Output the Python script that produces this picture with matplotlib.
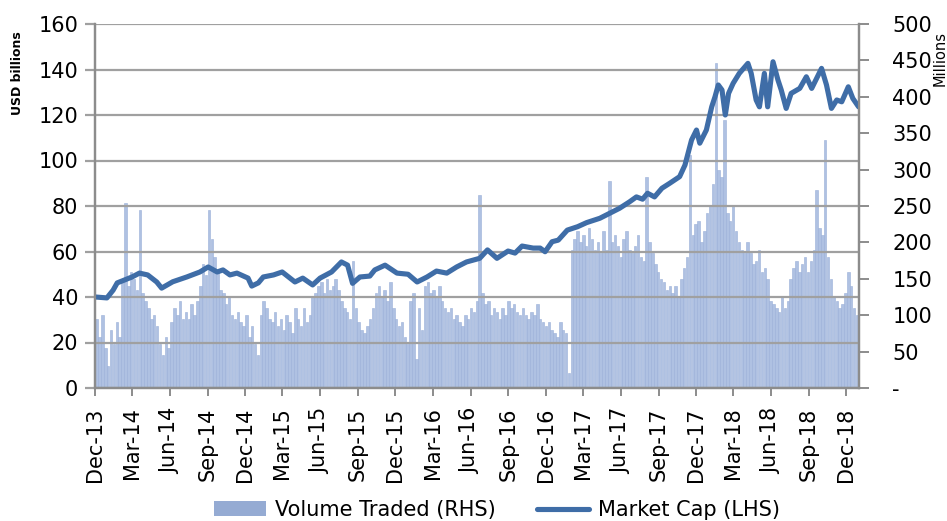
import matplotlib
matplotlib.use('Agg')
import matplotlib.pyplot as plt
import pandas as pd
from matplotlib.patches import Patch
from matplotlib.lines import Line2D

# ---------------- data ----------------
mcap_dates = ['2013-12-02','2013-12-30','2014-01-14','2014-01-24','2014-03-01','2014-03-19','2014-04-08','2014-04-30',
              '2014-05-12','2014-06-08','2014-07-12','2014-08-13','2014-09-02','2014-09-24','2014-10-08','2014-10-25',
              '2014-11-11','2014-12-08','2014-12-17','2015-01-02','2015-01-14','2015-02-08','2015-03-01','2015-03-20',
              '2015-04-01','2015-04-20','2015-05-14','2015-06-01','2015-06-29','2015-07-23','2015-08-07','2015-08-19',
              '2015-09-06','2015-09-30','2015-10-12','2015-11-06','2015-12-05','2016-01-01','2016-01-23','2016-02-16',
              '2016-03-10','2016-04-04','2016-04-28','2016-05-22','2016-06-23','2016-07-12','2016-08-04','2016-08-31',
              '2016-09-17','2016-10-04','2016-10-31','2016-11-17','2016-11-29','2016-12-16','2016-12-31','2017-01-22',
              '2017-02-16','2017-03-10','2017-04-11','2017-05-05','2017-05-29','2017-06-22','2017-07-09','2017-07-24',
              '2017-08-05','2017-08-22','2017-09-09','2017-09-28','2017-10-22','2017-11-04','2017-11-20','2017-12-02',
              '2017-12-10','2017-12-26','2018-01-08','2018-01-16','2018-01-24','2018-02-02','2018-02-10','2018-02-18',
              '2018-03-01','2018-03-16','2018-04-06','2018-04-14','2018-04-26','2018-05-04','2018-05-16','2018-05-24',
              '2018-06-06','2018-06-18','2018-06-26','2018-07-08','2018-07-20','2018-08-10','2018-08-26','2018-09-08',
              '2018-10-02','2018-10-14','2018-10-26','2018-11-08','2018-11-20','2018-12-06','2018-12-17','2018-12-31']
mcap_values = [40.0, 39.6, 43.0, 46.2, 48.8, 50.5, 49.7, 46.6, 43.9, 46.7, 48.8, 51.0, 53.2, 51.0, 51.9, 49.7,
               50.5, 48.3, 44.8, 46.2, 48.8, 49.7, 51.0, 48.3, 46.6, 48.3, 45.3, 48.3, 51.0, 55.4, 54.0, 46.0,
               48.8, 49.2, 51.9, 54.0, 50.5, 50.0, 46.6, 48.8, 51.4, 50.5, 53.2, 55.4, 57.0, 60.7, 57.0, 60.2,
               59.3, 62.4, 61.5, 61.5, 59.9, 64.3, 65.0, 69.4, 70.9, 72.7, 74.6, 76.8, 79.0, 81.8, 84.0, 83.0,
               85.6, 84.0, 87.8, 90.0, 92.9, 98.0, 109.0, 113.4, 107.6, 113.4, 123.6, 128.0, 133.2, 131.0, 120.0, 129.5,
               133.9, 138.3, 142.7, 138.3, 126.6, 123.6, 138.3, 123.6, 143.4, 135.4, 131.0, 122.9, 129.5, 131.7, 136.8, 131.7,
               140.5, 133.2, 122.9, 126.6, 125.8, 132.4, 127.3, 123.6]

# weekly traded volume (millions), weeks starting 2013-12-02
vol_values = [
    95, 70, 100, 55, 30,                                              # Dec-13
    80, 60, 90, 70, 150, 254, 140, 160, 150, 135, 245, 130, 120,      # Q1-14
    110, 95, 100, 85, 60, 45, 70, 55, 90, 110, 100, 120, 95,          # Q2-14
    105, 95, 115, 100, 120, 140, 170, 155, 245, 205, 180, 160, 135,   # Q3-14
    130, 115, 125, 100, 95, 105, 90, 85, 100, 70, 85, 60, 45,         # Q4-14
    100, 120, 110, 95, 90, 105, 85, 95, 80, 100, 90, 75, 110,         # Q1-15
    95, 85, 110, 90, 100, 125, 130, 140, 145, 130, 150, 135, 140,     # Q2-15
    150, 135, 120, 110, 105, 95, 175, 110, 90, 80, 75, 85, 95,        # Q3-15
    110, 130, 140, 125, 135, 120, 145, 110, 95, 85, 90, 70, 60,       # Q4-15
    120, 130, 40, 110, 80, 140, 145, 130, 135, 125, 140, 120, 110,    # Q1-16
    105, 110, 95, 100, 90, 85, 100, 95, 110, 105, 120, 265, 130,      # Q2-16
    115, 120, 100, 110, 105, 95, 110, 100, 120, 110, 115, 105, 100,   # Q3-16
    110, 100, 95, 105, 100, 115, 95, 90, 85, 90, 80, 75, 70,          # Q4-16
    90, 80, 75, 20, 190, 205, 215, 200, 210, 195, 220, 205, 190,      # Q1-17
    200, 185, 215, 190, 285, 200, 210, 195, 180, 205, 215, 190, 185,  # Q2-17
    195, 210, 180, 175, 290, 200, 185, 170, 160, 150, 145, 135, 140,  # Q3-17
    130, 140, 125, 150, 165, 180, 320, 210, 225, 230, 200, 215, 240,  # Q4-17
    250, 280, 446, 300, 290, 368, 240, 230, 250, 215, 200, 190, 185,  # Q1-18
    200, 185, 170, 175, 190, 160, 165, 150, 120, 115, 110, 105, 125,  # Q2-18
    110, 120, 150, 165, 175, 160, 170, 180, 160, 175, 190, 272, 220,  # Q3-18
    210, 340, 180, 150, 125, 120, 110, 115, 130, 160, 140, 110, 100,  # Q4-18
]
vol_start = '2013-12-02'

tick_dates = pd.date_range('2013-12-01', '2018-12-01', freq='3MS')
tick_labels = [d.strftime('%b-%y') for d in tick_dates]
left_ticks = list(range(0, 161, 20))
right_ticks = list(range(0, 501, 50))
right_labels = ['-' if v == 0 else str(v) for v in right_ticks]

# ---------------- style ----------------
LINE_C = '#3F6DA7'
BAR_C = '#AFC1E2'
BAR_EDGE = '#9AAFD8'
GRID_C = '#A0A0A0'
SPINE_C = '#8C8C8C'
FONT = 'DejaVu Sans'
plt.rcParams['font.family'] = FONT

fig = plt.figure(figsize=(9.47, 5.21), dpi=100)
ax = fig.add_axes([95/947, 1-388/521, (859-95)/947, (388-24)/521])
ax2 = ax.twinx()
ax.set_zorder(ax2.get_zorder() + 1)
ax.patch.set_visible(False)

vol_dates = pd.date_range(vol_start, periods=len(vol_values), freq='7D')
ax2.bar(vol_dates, vol_values, width=6, align='edge', color=BAR_C,
        edgecolor=BAR_EDGE, linewidth=0.4)

ax.plot(pd.to_datetime(mcap_dates), mcap_values, color=LINE_C, lw=3.7,
        solid_joinstyle='round', solid_capstyle='round')

ax.set_xlim(pd.Timestamp('2013-12-01'), pd.Timestamp('2019-01-01'))
ax.set_ylim(0, 160)
ax2.set_ylim(0, 500)

ax.set_yticks(left_ticks)
ax.set_yticklabels([str(v) for v in left_ticks])
ax2.set_yticks(right_ticks)
ax2.set_yticklabels(right_labels)
ax.set_xticks(tick_dates)
ax.set_xticklabels(tick_labels, rotation=90)

ax.grid(axis='y', color=GRID_C, lw=1.6)
ax.grid(axis='x', visible=False)
ax.tick_params(axis='y', length=7, width=1.6, color=GRID_C, pad=5, labelsize=15)
ax.tick_params(axis='x', length=6, width=1.4, color=SPINE_C, pad=8, labelsize=15)
ax2.tick_params(axis='y', length=7, width=1.4, color=SPINE_C, pad=17, labelsize=15)

for a in (ax, ax2):
    a.spines['top'].set_visible(False)
    for s in ('left', 'right', 'bottom'):
        a.spines[s].set_color(SPINE_C)
        a.spines[s].set_linewidth(1.6)

fig.text(18/947, 1-73/521, 'USD billions', rotation=90, ha='center', va='center',
         fontsize=9, fontweight='bold')
fig.text(940/947, 1-58/521, 'Millions', rotation=90, ha='center', va='center', fontsize=10.5)

handles = [Patch(facecolor='#95ABD3', edgecolor='none'),
           Line2D([0], [0], color=LINE_C, lw=3.7, solid_capstyle='round')]
fig.legend(handles, ['Volume Traded (RHS)', 'Market Cap (LHS)'], loc='center',
           bbox_to_anchor=(497/947, 1-510/521), ncol=2, frameon=False, fontsize=15,
           handlelength=2.5, handleheight=0.7, handletextpad=0.4, columnspacing=2.0,
           borderaxespad=0, borderpad=0)

fig.savefig('out.png', dpi=100)
